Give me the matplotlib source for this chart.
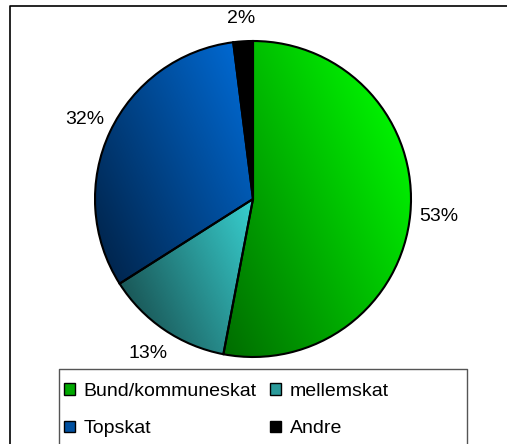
import matplotlib
matplotlib.use("Agg")
import matplotlib.pyplot as plt
import numpy as np
from matplotlib.colors import LinearSegmentedColormap
from matplotlib.lines import Line2D
from matplotlib.patches import Patch

plt.rcParams["font.family"] = ["Liberation Sans", "DejaVu Sans"]

categories = ["Bund/kommuneskat", "mellemskat", "Topskat", "Andre"]
shares = [53, 13, 32, 2]
# dark -> bright end of each slice's gradient
dark_colors = ["#006c00", "#1a5858", "#00264f", "#000000"]
light_colors = ["#00f000", "#38d0d0", "#0068d0", "#000000"]
legend_colors = ["#00a800", "#2a9a9a", "#0050a0", "#000000"]

W, H = 507, 444
fig = plt.figure(figsize=(W / 100, H / 100), dpi=100)


def fig_line(xs, ys, color, lw):
    """Draw a line in pixel coords (y from top) on the figure."""
    fig.lines.append(Line2D([x / W for x in xs], [1 - y / H for y in ys],
                            transform=fig.transFigure, color=color, linewidth=lw))


# outer chart border: only top and left edges are inside the image
fig_line([9.5, 9.5, W + 50], [H + 50, 6.5, 6.5], "black", 1.2)

cx, cy, r = 253, 199, 158
ax = fig.add_axes([(cx - r) / W, (H - cy - r) / H, 2 * r / W, 2 * r / H])
wedges, texts, autotexts = ax.pie(
    shares, startangle=90, counterclock=False, radius=1.0,
    autopct="%1.0f%%", pctdistance=1.18,
    wedgeprops=dict(edgecolor="black", linewidth=1.5),
    textprops=dict(fontsize=14, color="black"))
ax.set_aspect("equal")
ax.axis("off")
# the small "Andre" label sits a little closer to the pie
x2, y2 = autotexts[3].get_position()
autotexts[3].set_position((x2, y2 - 0.035))

# per-slice diagonal gradient, dark at lower-left, bright at upper-right
n = 400
xs = np.linspace(-1, 1, n)
gx, gy = np.meshgrid(xs, xs)
ang = np.deg2rad(25)
proj = gx * np.cos(ang) + gy * np.sin(ang)
for w, dc, lc in zip(wedges, dark_colors, light_colors):
    verts = w.get_path().vertices
    vp = verts[:, 0] * np.cos(ang) + verts[:, 1] * np.sin(ang)
    lo, hi = vp.min(), vp.max()
    t = np.clip((proj - lo) / (hi - lo + 1e-9), 0, 1)
    cmap = LinearSegmentedColormap.from_list("g", [dc, lc])
    im = ax.imshow(t, cmap=cmap, extent=(-1, 1, -1, 1), origin="lower",
                   vmin=0, vmax=1, zorder=w.get_zorder() - 0.5,
                   interpolation="bilinear")
    im.set_clip_path(w)
    w.set_facecolor("none")
ax.set_xlim(-1, 1)
ax.set_ylim(-1, 1)

# legend box (bottom edge runs off the image)
fig_line([59, 59, 467, 467], [H + 50, 369, 369, H + 50], "#555555", 1)
handles = [Patch(facecolor=c, edgecolor="black", linewidth=1) for c in legend_colors]
# legend fills column-wise; order so rows read Bund, mellemskat / Topskat, Andre
order = [0, 2, 1, 3]
fig.legend([handles[i] for i in order], [categories[i] for i in order],
           loc="upper left", bbox_to_anchor=(64 / W, (H - 383) / H), ncol=2,
           frameon=False, fontsize=14, handlelength=0.55, handleheight=0.55,
           handletextpad=0.45, columnspacing=0.7, labelspacing=1.05,
           borderpad=0, borderaxespad=0)

fig.savefig("out.png", dpi=100)
